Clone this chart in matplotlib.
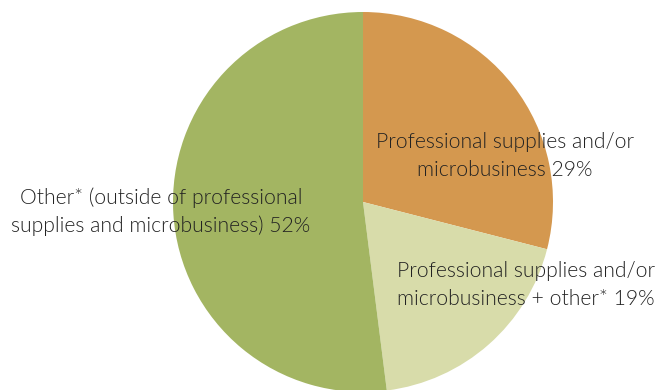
import matplotlib
matplotlib.use("Agg")
import matplotlib.pyplot as plt

labels = [
    "Professional supplies and/or\nmicrobusiness 29%",
    "Professional supplies and/or\nmicrobusiness + other* 19%",
    "Other* (outside of professional\nsupplies and microbusiness) 52%",
]
shares = [29, 19, 52]
colors = ["#D4984F", "#D8DCAA", "#A3B562"]

W, H = 662, 390
fig = plt.figure(figsize=(W / 100, H / 100), dpi=100)
ax = fig.add_axes([0, 0, 1, 1])

cx, cy, r = 363, H - 202, 190
ax.pie(shares, colors=colors, startangle=90, counterclock=False,
       center=(cx, cy), radius=r, frame=True,
       wedgeprops=dict(linewidth=0))
ax.set_xlim(0, W)
ax.set_ylim(0, H)
ax.set_aspect("equal", adjustable="box")
ax.axis("off")

label_pos = [(505, H - 156), (526, H - 285), (161, H - 212)]
for text, (x, y) in zip(labels, label_pos):
    ax.text(x, y, text, ha="center", va="center", fontsize=15.2,
            family="Lato", fontweight=300, color="#222222",
            linespacing=1.45)

fig.savefig("out.png", dpi=100)
